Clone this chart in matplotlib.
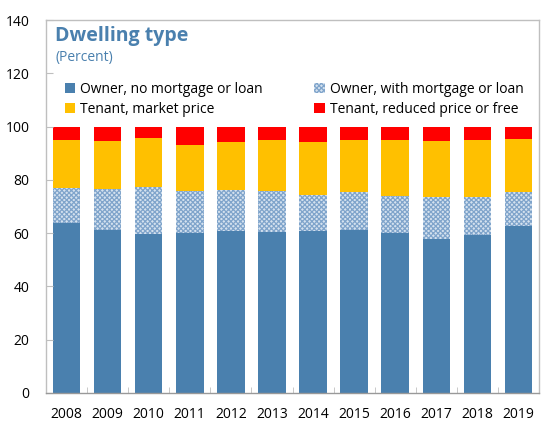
import matplotlib
matplotlib.use("Agg")
import matplotlib.pyplot as plt
import numpy as np

# Dwelling type shares, percent
years = ["2008", "2009", "2010", "2011", "2012", "2013",
         "2014", "2015", "2016", "2017", "2018", "2019"]
owner_no_mortgage = [63.9, 61.3, 59.8, 60.2, 60.9, 60.3, 60.9, 61.2, 60.2, 57.7, 59.4, 62.8]
owner_mortgage = [13.1, 15.3, 17.6, 15.7, 15.3, 15.6, 13.3, 14.1, 13.9, 15.7, 14.2, 12.8]
tenant_market = [17.8, 18.0, 18.2, 17.3, 18.1, 18.9, 20.0, 19.8, 20.7, 21.1, 21.5, 19.9]
tenant_reduced = [5.2, 5.4, 4.4, 6.8, 5.7, 5.2, 5.8, 4.9, 5.2, 5.5, 4.9, 4.5]

yticks = [0, 20, 40, 60, 80, 100, 120, 140]

plt.rcParams['font.family'] = ['Open Sans', 'DejaVu Sans']
plt.rcParams['hatch.linewidth'] = 0.9

blue = "#4a80ae"
yellow = "#ffc000"
red = "#ff0000"
grey = "#bfbfbf"

fig = plt.figure(figsize=(5.42, 4.21), dpi=100)
ax = fig.add_axes([46 / 542, 1 - 393 / 421, 493 / 542, 373 / 421])

x = np.arange(len(years))
w = 0.67
bottom = np.zeros(len(years))
ax.bar(x, owner_no_mortgage, w, bottom=bottom, color=blue, linewidth=0,
       label="Owner, no mortgage or loan")
bottom += owner_no_mortgage
ax.bar(x, owner_mortgage, w, bottom=bottom, facecolor="#d5e2ef", edgecolor="#7fa4cb",
       hatch="xxxxxxx", linewidth=0, label="Owner, with mortgage or loan")
bottom += owner_mortgage
ax.bar(x, tenant_market, w, bottom=bottom, color=yellow, linewidth=0,
       label="Tenant, market price")
bottom += tenant_market
ax.bar(x, tenant_reduced, w, bottom=bottom, color=red, linewidth=0,
       label="Tenant, reduced price or free")

ax.set_xlim(-0.5, len(years) - 0.5)
ax.set_ylim(0, 140)
ax.set_yticks(yticks)
ax.set_xticks(x)
ax.set_xticklabels(years)
ax.set_xticks(x[:-1] + 0.5, minor=True)
ax.tick_params(axis='x', which='major', length=0, pad=10, labelsize=10)
ax.tick_params(axis='x', which='minor', direction='in', length=4, color=grey)
ax.tick_params(axis='y', direction='in', length=5, color=grey, pad=12, labelsize=10)
for s in ax.spines.values():
    s.set_color(grey)
    s.set_linewidth(1.0)
ax.spines['bottom'].set_color("#999999")

fig.text(55 / 542, 1 - 41 / 421, "Dwelling type", color=blue, fontsize=14,
         fontweight='bold', va='baseline')
fig.text(55 / 542, 1 - 57 / 421, "(Percent)", color=blue, fontsize=10, va='center')

handles, labels = ax.get_legend_handles_labels()
order = [0, 2, 1, 3]
leg = fig.legend([handles[i] for i in order], [labels[i] for i in order], ncol=2,
                 loc='upper left', bbox_to_anchor=(65 / 542, 1 - 82 / 421),
                 frameon=False, fontsize=10, handlelength=0.75, handleheight=0.75,
                 handletextpad=0.35, columnspacing=3.7, labelspacing=0.35,
                 borderpad=0, borderaxespad=0)

fig.savefig("out.png", dpi=100)
